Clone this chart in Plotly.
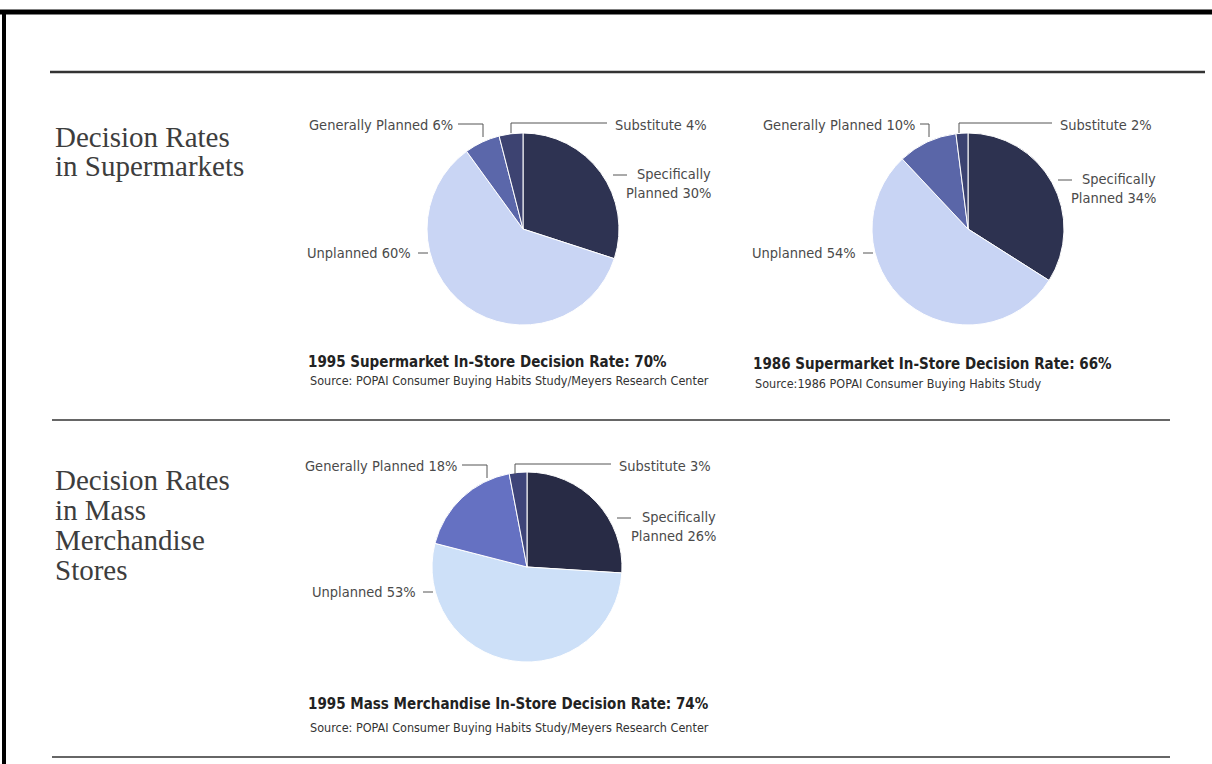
import plotly.graph_objects as go

W, H = 1212, 764

# ---------------- data ----------------
categories = ["Specifically Planned", "Unplanned", "Generally Planned", "Substitute"]
sm_1995 = [30, 60, 6, 4]
sm_1986 = [34, 54, 10, 2]
mm_1995 = [26, 53, 18, 3]

titles = [
    "1995 Supermarket In-Store Decision Rate: 70%",
    "1986 Supermarket In-Store Decision Rate: 66%",
    "1995 Mass Merchandise In-Store Decision Rate: 74%",
]
sources = [
    "Source: POPAI Consumer Buying Habits Study/Meyers Research Center",
    "Source:1986 POPAI Consumer Buying Habits Study",
    "Source: POPAI Consumer Buying Habits Study/Meyers Research Center",
]
section_heads = [
    ["Decision Rates", "in Supermarkets"],
    ["Decision Rates", "in Mass", "Merchandise", "Stores"],
]

# ---------------- style ----------------
COLORS = [
    ["#2e3352", "#c9d5f4", "#5b67aa", "#3d4371"],
    ["#2d3250", "#c8d4f4", "#5a66a8", "#3b4270"],
    ["#282b45", "#cde0f8", "#6571c2", "#3e4478"],
]
SANS = "Liberation Sans Narrow, DejaVu Sans Condensed, Roboto Condensed, Arial Narrow, Roboto, sans-serif"
SERIF = "Liberation Serif, DejaVu Serif, serif"
LABEL_C = "#4a4a4a"


def px(x):
    return x / W


def py(y):
    return 1 - y / H


def dom(cx, cy, r):
    return dict(x=[px(cx - r), px(cx + r)], y=[py(cy + r), py(cy - r)])


pies = [
    dict(values=sm_1995, cx=523, cy=229, r=96, colors=COLORS[0]),
    dict(values=sm_1986, cx=968, cy=229, r=96, colors=COLORS[1]),
    dict(values=mm_1995, cx=527, cy=567, r=95, colors=COLORS[2]),
]

fig = go.Figure()
for p in pies:
    fig.add_trace(go.Pie(
        labels=categories,
        values=p["values"],
        sort=False,
        direction="clockwise",
        rotation=0,
        textinfo="none",
        hoverinfo="label+percent",
        marker=dict(colors=p["colors"], line=dict(color="white", width=1)),
        domain=dom(p["cx"], p["cy"], p["r"]),
        showlegend=False,
    ))

annotations = []
shapes = []


def text(x, y, s, anchor="left", size=14.5, color=LABEL_C, family=SANS, bold=False):
    if bold:
        s = "<b>" + s + "</b>"
    annotations.append(dict(
        x=px(x), y=py(y), xref="paper", yref="paper", text=s, showarrow=False,
        xanchor=anchor, yanchor="middle", align=anchor if anchor != "center" else "center",
        font=dict(family=family, size=size, color=color),
    ))


def line(x0, y0, x1, y1, color="#555", width=1):
    shapes.append(dict(type="line", xref="paper", yref="paper",
                       x0=px(x0), y0=py(y0), x1=px(x1), y1=py(y1),
                       line=dict(color=color, width=width)))


def pct(v):
    return f"{v}%"


# labels layout for each pie (pixel offsets relative to pie centre)
for i, p in enumerate(pies):
    cx, cy, v = p["cx"], p["cy"], p["values"]
    ty = cy - 104 if i < 2 else cy - 101
    # Generally Planned
    gp_end = cx - 68 if i != 1 else cx - 51
    gp_x = cx - 40 if i != 1 else cx - 39
    text(gp_end, ty, f"Generally Planned {pct(v[2])}", anchor="right")
    line(gp_end + 3, ty - 1, gp_x, ty - 1)
    line(gp_x, ty - 1, gp_x, ty + 12)
    # Substitute
    sb_x = cx - 12 if i != 1 else cx - 9
    sb_end = cx + 84
    text(sb_end + 6, ty, f"Substitute {pct(v[3])}", anchor="left")
    line(sb_x, ty - 2, sb_end, ty - 2)
    line(sb_x, ty - 2, sb_x, ty + 8)
    # Specifically Planned
    sp_y = cy - 55 if i == 0 else (cy - 50 if i == 1 else cy - 50)
    sp_right = cx + 190 if i != 2 else cx + 191
    text(sp_right, sp_y, "Specifically", anchor="right")
    text(sp_right, sp_y + 19, f"Planned {pct(v[0])}", anchor="right")
    line(cx + 90, sp_y + 1, cx + 104, sp_y + 1)
    # Unplanned
    un_y = cy + 24 if i < 2 else cy + 25
    un_end = cx - 110 if i != 2 else cx - 109
    text(un_end, un_y, f"Unplanned {pct(v[1])}", anchor="right")
    line(un_end + 5, un_y, un_end + 15, un_y)

# titles and sources
title_pos = [(306, 362, 381), (751, 364, 383), (306, 704, 727)]
for (x, ty, sy), t, s in zip(title_pos, titles, sources):
    text(x, ty, t, size=15, color="#222", bold=True)
    text(x + 2, sy, s, size=12.5, color="#333")

# section headings (serif)
for lines_, y0 in zip(section_heads, [137, 480]):
    for k, ln in enumerate(lines_):
        text(53, y0 + k * 30 - (k * 1 if y0 == 137 else 0), ln, size=29, color="#3d3d3d", family=SERIF)

# frame and rules
line(0, 12, W, 12, color="black", width=5)
line(4, 10, 4, H, color="black", width=4)
line(50, 72, 1205, 72, color="#333", width=2.5)
line(52, 420, 1170, 420, color="#666", width=2)
line(52, 757, 1170, 757, color="#666", width=2)

fig.update_layout(
    width=W, height=H, autosize=False,
    margin=dict(l=0, r=0, t=0, b=0),
    paper_bgcolor="white", plot_bgcolor="white",
    annotations=annotations, shapes=shapes,
)

fig.write_html("out.html")
